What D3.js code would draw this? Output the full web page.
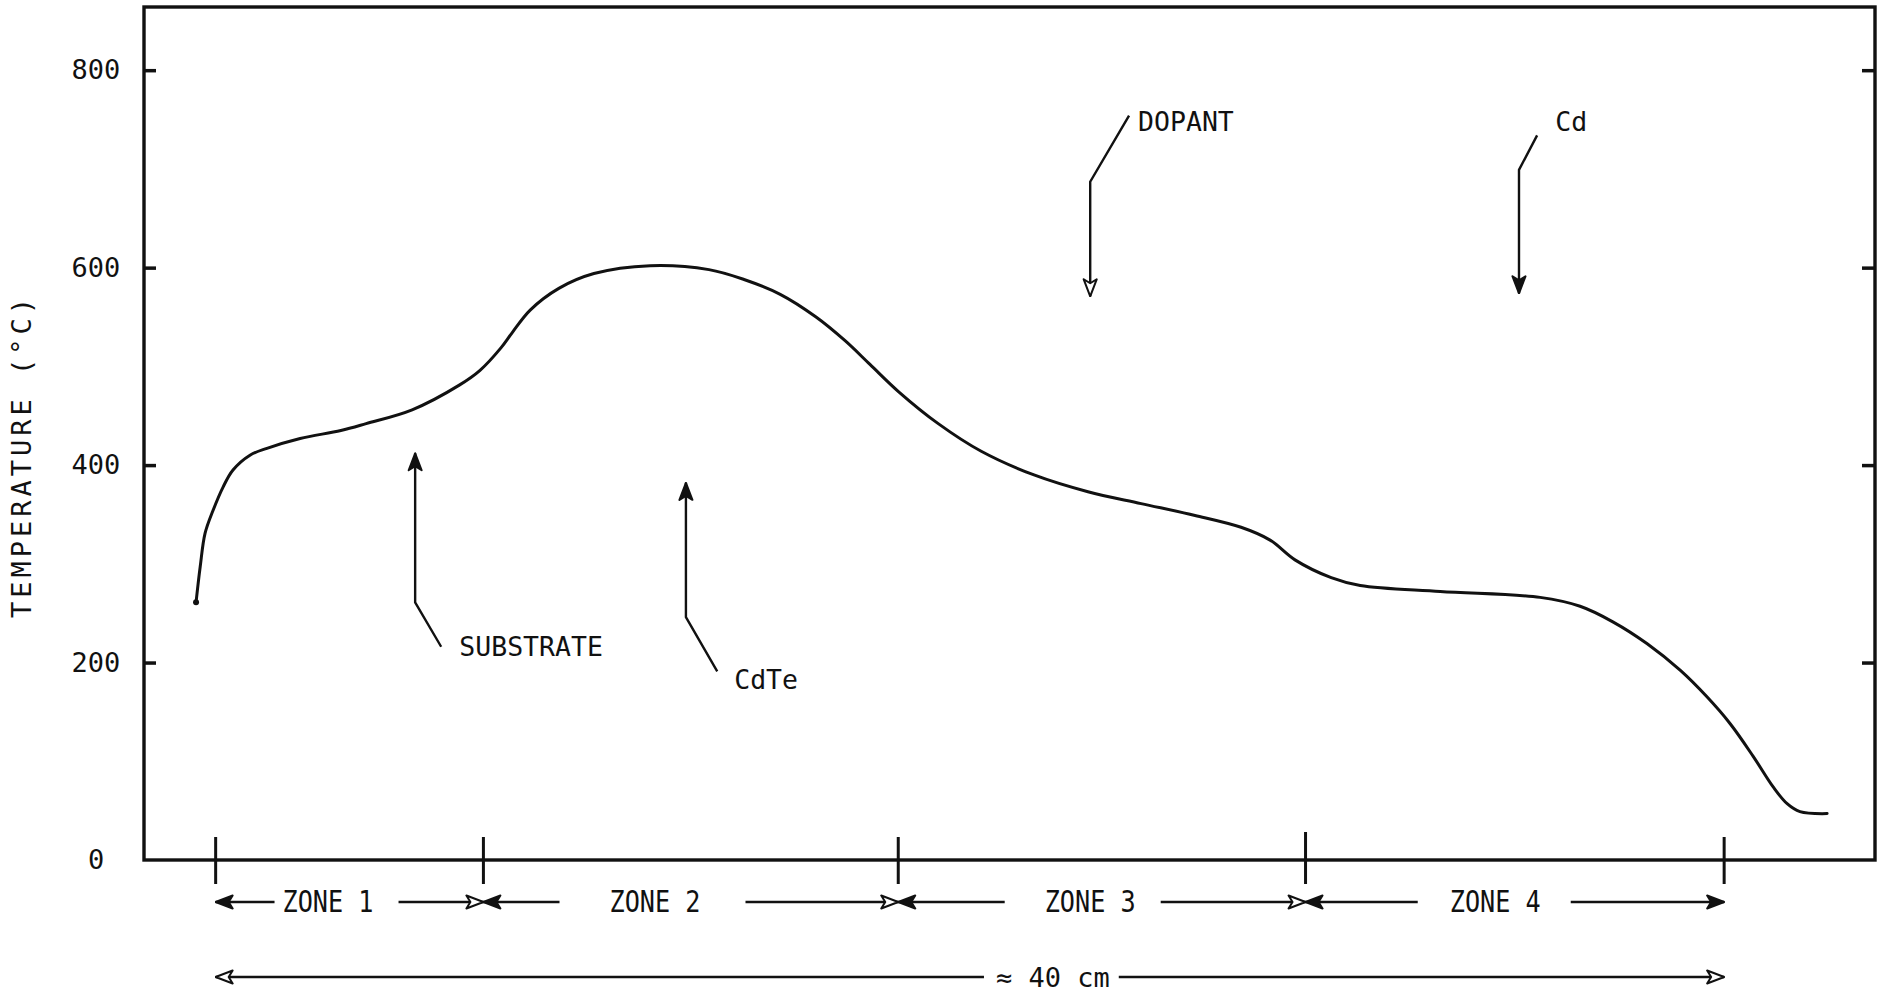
<!DOCTYPE html>
<html>
<head>
<meta charset="utf-8">
<script src="https://cdn.jsdelivr.net/npm/d3@7"></script>
<style>
  body { margin: 0; background: #fff; }
  svg text { font-family: "DejaVu Sans Mono", "Liberation Mono", monospace; fill: #111; }
</style>
</head>
<body>
<div id="chart"></div>
<script>
// position along the furnace (cm) and temperature (deg C)
const positionCm = [-0.52, -0.41, -0.28, -0.07, 0.20, 0.46, 0.91, 1.36, 2.24, 3.32, 3.99, 5.21,
  6.46, 7.01, 7.57, 7.86, 8.34, 9.10, 10.03, 11.52, 13.08, 14.01, 14.97, 15.92, 16.69, 17.35,
  18.12, 19.16, 20.30, 21.70, 23.13, 24.54, 25.97, 27.19, 27.96, 28.62, 29.58, 30.35, 32.47,
  35.12, 36.18, 37.06, 37.96, 38.84, 39.55, 40.16, 40.77, 41.30, 41.67, 42.01, 42.73];
const temperatureC = [261, 297, 331, 354, 378, 395, 410, 417, 427, 435, 442, 456,
  481, 496, 519, 534, 557, 579, 594, 602, 598, 588, 573, 550, 526, 502,
  474, 442, 414, 390, 373, 361, 349, 337, 324, 304, 286, 278, 272,
  266, 257, 241, 219, 192, 165, 138, 105, 74, 57, 49, 47];

const tempTicks = [0, 200, 400, 600, 800];
const zoneBounds = [0, 7.1, 18.1, 28.9, 40];
const zoneNames = ["ZONE 1", "ZONE 2", "ZONE 3", "ZONE 4"];
const zoneLabelAt = [2.98, 11.65, 23.19, 33.93];
const totalLabel = "≈ 40 cm";
const totalLabelAt = 22.2;

// callouts: pointer from the label to the arrow tip, in (cm, deg C)
const calloutNames = ["SUBSTRATE", "CdTe", "DOPANT", "Cd"];
const calloutPaths = [
  [[5.98, 216], [5.29, 261], [5.29, 412]],
  [[13.30, 191], [12.47, 246], [12.47, 382]],
  [[24.22, 754], [23.19, 687], [23.19, 571]],
  [[35.04, 734], [34.56, 699], [34.56, 574]]
];
const calloutLabelAt = [[6.46, 207], [13.75, 173], [24.46, 738], [35.52, 738]];
const calloutHead = ["solid", "solid", "open", "solid"];

const width = 1880, height = 997;
const plotLeft = 144, plotRight = 1875, plotTop = 7, plotBottom = 860;
// gap (px) left and right of each zone label where the dimension line stops
const zoneGaps = [[8, 25], [50, 45], [40, 25], [32, 30]];

const svg = d3.select("#chart").append("svg")
  .attr("width", width)
  .attr("height", height);

const x = d3.scaleLinear().domain([-1.9, 44]).range([plotLeft, plotRight]);
const y = d3.scaleLinear().domain([0, 864]).range([plotBottom, plotTop]);

// arrow heads
const defs = svg.append("defs");
function marker(id, fill) {
  defs.append("marker")
    .attr("id", id)
    .attr("viewBox", "0 -8 20 16")
    .attr("refX", 19)
    .attr("refY", 0)
    .attr("markerUnits", "userSpaceOnUse")
    .attr("markerWidth", 20)
    .attr("markerHeight", 16)
    .attr("orient", "auto-start-reverse")
    .append("path")
    .attr("d", "M2,-6.5 L19,0 L2,6.5 L6,0 Z")
    .attr("fill", fill)
    .attr("stroke", "#111")
    .attr("stroke-width", 2)
    .attr("stroke-linejoin", "round");
}
marker("solid", "#111");
marker("open", "#fff");

// frame
svg.append("rect")
  .attr("x", plotLeft).attr("y", plotTop)
  .attr("width", plotRight - plotLeft).attr("height", plotBottom - plotTop)
  .attr("fill", "none")
  .attr("stroke", "#111")
  .attr("stroke-width", 3.4);

// temperature axis: inward ticks on both sides
const yAxis = svg.append("g")
  .attr("transform", `translate(${plotLeft},0)`)
  .call(d3.axisLeft(y).tickValues(tempTicks).tickSizeInner(-12).tickSizeOuter(0).tickPadding(48));
yAxis.select(".domain").remove();
yAxis.selectAll("line").attr("stroke", "#111").attr("stroke-width", 3.5);
yAxis.selectAll(".tick").filter(d => d === 0).select("line").remove();
yAxis.selectAll("text")
  .attr("text-anchor", "middle")
  .attr("font-size", 27)
  .attr("font-family", null);

const yAxisR = svg.append("g")
  .attr("transform", `translate(${plotRight},0)`)
  .call(d3.axisRight(y).tickValues(tempTicks.filter(d => d > 0)).tickSizeInner(-13).tickSizeOuter(0).tickFormat(""));
yAxisR.select(".domain").remove();
yAxisR.selectAll("line").attr("stroke", "#111").attr("stroke-width", 3.5);

svg.append("text")
  .attr("transform", `translate(31,456) rotate(-90)`)
  .attr("text-anchor", "middle")
  .attr("font-size", 27)
  .attr("letter-spacing", 4)
  .text("TEMPERATURE (°C)");

// temperature profile
const points = positionCm.map((p, i) => [p, temperatureC[i]]);
svg.append("path")
  .datum(points)
  .attr("fill", "none")
  .attr("stroke", "#111")
  .attr("stroke-width", 3)
  .attr("stroke-linecap", "round")
  .attr("stroke-linejoin", "round")
  .attr("d", d3.line().x(d => x(d[0])).y(d => y(d[1])).curve(d3.curveCatmullRom.alpha(0.5)));
svg.append("circle")
  .attr("cx", x(positionCm[0])).attr("cy", y(temperatureC[0]))
  .attr("r", 3).attr("fill", "#111");

// callouts
const pointer = d3.line().x(d => x(d[0])).y(d => y(d[1]));
calloutNames.forEach((name, i) => {
  svg.append("path")
    .attr("d", pointer(calloutPaths[i]))
    .attr("fill", "none")
    .attr("stroke", "#111")
    .attr("stroke-width", 2.4)
    .attr("marker-end", `url(#${calloutHead[i]})`);
  svg.append("text")
    .attr("x", x(calloutLabelAt[i][0]))
    .attr("y", y(calloutLabelAt[i][1]))
    .attr("font-size", 26.5)
    .text(name);
});

// zone boundary ticks on the length axis
svg.append("g")
  .selectAll("line")
  .data(zoneBounds)
  .join("line")
  .attr("x1", d => x(d)).attr("x2", d => x(d))
  .attr("y1", (d, i) => plotBottom - (i === 3 ? 28 : 23))
  .attr("y2", plotBottom + 24)
  .attr("stroke", "#111")
  .attr("stroke-width", 3);

// dimension line: arrow, label, arrow
function dimension(x0, x1, cx, yy, label, gaps, headL, headR, size, len) {
  const t = svg.append("text")
    .attr("x", cx)
    .attr("y", yy + 10)
    .attr("text-anchor", "middle")
    .attr("font-size", size)
    .text(label);
  if (len) t.attr("textLength", len).attr("lengthAdjust", "spacingAndGlyphs");
  const w = len || t.node().getComputedTextLength();
  svg.append("line")
    .attr("x1", x0).attr("x2", cx - w / 2 - gaps[0])
    .attr("y1", yy).attr("y2", yy)
    .attr("stroke", "#111").attr("stroke-width", 2.4)
    .attr("marker-start", `url(#${headL})`);
  svg.append("line")
    .attr("x1", cx + w / 2 + gaps[1]).attr("x2", x1)
    .attr("y1", yy).attr("y2", yy)
    .attr("stroke", "#111").attr("stroke-width", 2.4)
    .attr("marker-end", `url(#${headR})`);
}

zoneNames.forEach((name, i) => {
  dimension(x(zoneBounds[i]), x(zoneBounds[i + 1]), x(zoneLabelAt[i]), plotBottom + 42, name,
    zoneGaps[i], "solid", i === 3 ? "solid" : "open", 30, 91);
});
dimension(x(zoneBounds[0]), x(zoneBounds[zoneBounds.length - 1]), x(totalLabelAt), plotBottom + 117,
  totalLabel, [12, 9], "open", "open", 27, 0);
</script>
</body>
</html>
